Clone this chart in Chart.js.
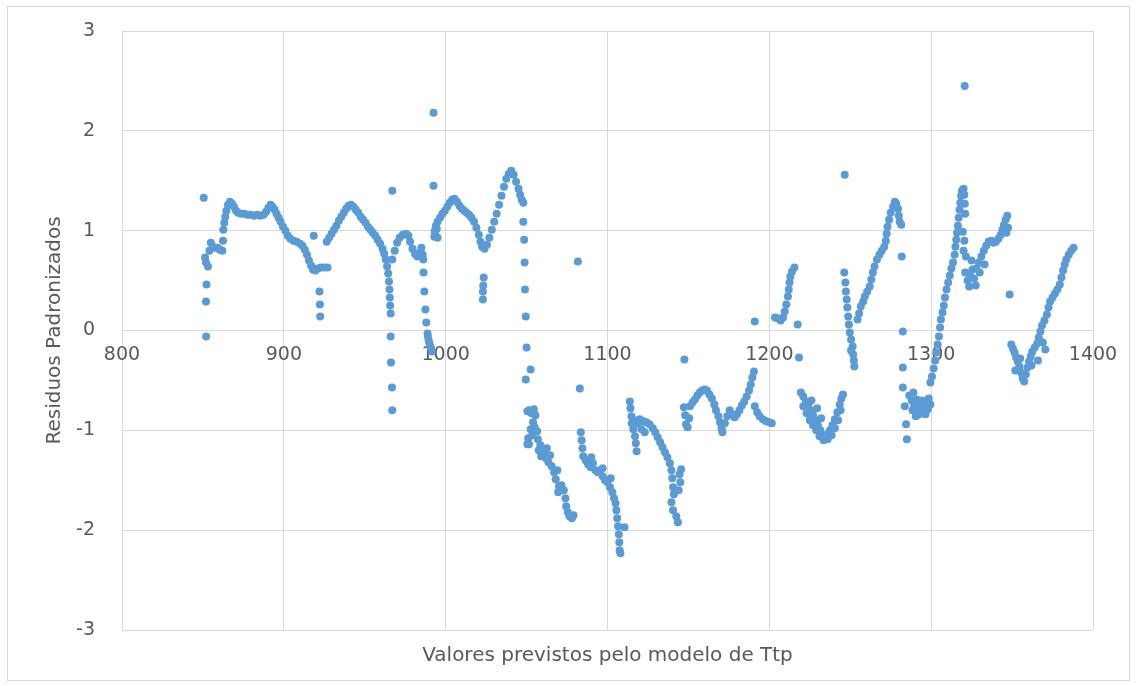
<!DOCTYPE html>
<html lang="pt">
<head>
<meta charset="UTF-8">
<title>Residuos Padronizados</title>
<style>
  html, body { margin: 0; padding: 0; background: #ffffff; }
  #wrap { position: relative; width: 1137px; height: 686px; }
</style>
</head>
<body>
<div id="wrap"><canvas id="grafico" width="1137" height="686"></canvas></div>

<script src="https://cdn.jsdelivr.net/npm/chart.js"></script>
<script>
const trecho850 = [
  [850.5,1.33],[852.0,-0.06],[851.9,0.29],[852.2,0.46],[851.3,0.73],[851.9,0.68],[853.1,0.64],
  [854.0,0.80],[854.9,0.88],[856.2,0.84],[857.5,0.83],[859.0,0.83],[860.5,0.81],[862.0,0.80],
  [862.4,0.90],[862.6,1.01],[863.2,1.08],[863.8,1.14],[864.5,1.20],[865.5,1.26],[866.7,1.29],
  [868.0,1.27],[869.2,1.24],[870.5,1.20],[871.7,1.18],[873.5,1.17],[875.5,1.17],[877.5,1.16],
  [879.5,1.16],[881.5,1.15],[883.5,1.16],[885.5,1.15],[887.5,1.16],[889.0,1.19],[890.5,1.23],
  [891.8,1.26],[893.0,1.24],[894.3,1.21],[895.5,1.17],[896.8,1.13],[898.0,1.09],[899.5,1.04],
  [901.0,1.00],[902.5,0.95],[904.0,0.92],[906.0,0.90],[908.0,0.89],[910.0,0.87],[911.5,0.85],
  [913.0,0.81],[914.3,0.76],[915.5,0.70],[916.8,0.65],[918.0,0.61],[919.5,0.60],[921.0,0.62],
  [923.0,0.63],[925.0,0.63],[927.0,0.63],[918.5,0.95],[922.0,0.39],[922.3,0.26],[922.5,0.14]
];
const trecho930 = [
  [926.5,0.89],[928.0,0.93],[929.5,0.97],[931.0,1.01],[932.5,1.05],[934.0,1.10],[935.5,1.14],
  [937.0,1.18],[938.5,1.22],[940.0,1.25],[941.5,1.26],[943.0,1.24],[944.5,1.21],[946.0,1.18],
  [947.5,1.14],[949.0,1.11],[950.5,1.08],[952.0,1.04],[953.5,1.01],[955.0,0.98],[956.5,0.95],
  [958.0,0.91],[959.5,0.87],[961.0,0.82],[962.0,0.77],[963.0,0.71],[963.8,0.64],[964.5,0.57],
  [965.0,0.49],[965.3,0.41],[965.5,0.33],[965.7,0.25],[966.0,0.17],[966.0,-0.06],[966.2,-0.32],
  [966.8,-0.57],[967.0,-0.80],[967.0,1.40],[967.0,0.71],[968.5,0.80],[970.0,0.88],[971.5,0.93],
  [973.5,0.96],[975.5,0.97],[977.0,0.95],[978.0,0.89],[979.5,0.82],[981.0,0.77],[982.5,0.74],
  [984.0,0.78],[985.0,0.83],[985.8,0.76],[986.2,0.71],[986.3,0.58],[986.8,0.39],[987.5,0.21],
  [988.0,0.08],[988.8,-0.03],[989.0,-0.06],[989.5,-0.10],[990.0,-0.13],[990.5,-0.16],[991.0,-0.18],
  [991.5,-0.21],[992.5,1.45],[992.5,2.18]
];
const trecho1000 = [
  [993.0,0.94],[993.3,1.00],[993.5,0.97],[994.0,1.05],[994.5,1.02],[995.0,0.93],[995.0,1.09],
  [996.5,1.13],[998.0,1.17],[999.5,1.20],[1001.0,1.24],[1002.5,1.28],[1004.0,1.31],[1005.5,1.32],
  [1007.0,1.29],[1008.5,1.25],[1010.0,1.22],[1011.5,1.20],[1013.0,1.18],[1014.5,1.16],[1016.0,1.13],
  [1017.5,1.09],[1019.0,1.03],[1020.5,0.96],[1021.5,0.89],[1022.5,0.84],[1024.0,0.82],[1025.5,0.86],
  [1027.0,0.93],[1023.5,0.53],[1023.2,0.45],[1023.0,0.39],[1023.0,0.31],[1028.5,1.01],[1030.0,1.09],
  [1031.5,1.17],[1033.0,1.26],[1034.5,1.35],[1036.0,1.44],[1037.5,1.52],[1039.0,1.57],[1040.5,1.60],
  [1042.0,1.56],[1043.5,1.49],[1045.0,1.42],[1046.0,1.36],[1047.0,1.31],[1048.0,1.28],[1048.0,1.09],
  [1048.5,0.91],[1048.8,0.68],[1049.0,0.41],[1049.5,0.14],[1050.0,-0.17],[1052.5,-0.39],[1049.5,-0.49],
  [1050.5,-0.81],[1050.5,-1.14]
];
const trecho1060 = [
  [1051.5,-0.80],[1053.0,-0.83],[1054.5,-0.79],[1055.5,-0.85],[1054.0,-0.92],[1052.5,-0.99],
  [1051.0,-1.08],[1051.5,-1.14],[1053.5,-1.05],[1055.0,-0.97],[1056.5,-1.01],[1057.0,-1.09],
  [1058.5,-1.15],[1057.5,-1.20],[1059.0,-1.26],[1060.5,-1.22],[1062.0,-1.28],[1063.5,-1.32],
  [1062.5,-1.18],[1064.5,-1.25],[1065.5,-1.36],[1067.0,-1.42],[1068.0,-1.49],[1069.0,-1.40],
  [1070.0,-1.56],[1069.5,-1.62],[1071.5,-1.55],[1073.0,-1.60],[1074.0,-1.68],[1074.5,-1.76],
  [1075.5,-1.82],[1076.5,-1.86],[1078.0,-1.88],[1079.0,-1.85],[1081.7,0.69],[1082.9,-0.58]
];
const trecho1100 = [
  [1083.5,-1.02],[1084.0,-1.10],[1084.5,-1.18],[1085.0,-1.26],[1086.5,-1.30],[1088.0,-1.34],
  [1089.5,-1.37],[1091.0,-1.33],[1092.5,-1.40],[1094.0,-1.42],[1095.5,-1.40],[1097.0,-1.46],
  [1098.5,-1.50],[1100.0,-1.52],[1101.5,-1.57],[1103.0,-1.62],[1104.0,-1.68],[1105.0,-1.73],
  [1105.5,-1.80],[1106.0,-1.88],[1106.5,-1.96],[1107.0,-2.04],[1107.3,-2.12],[1107.5,-2.20],
  [1108.0,-2.23],[1110.5,-1.97],[1102.0,-1.48],[1097.0,-1.38],[1090.0,-1.27]
];
const trecho1130 = [
  [1113.8,-0.71],[1114.2,-0.78],[1114.8,-0.86],[1115.0,-0.93],[1116.0,-0.99],[1117.0,-1.06],
  [1117.5,-1.13],[1118.0,-1.21],[1116.5,-0.90],[1118.5,-0.93],[1120.0,-0.89],[1121.0,-0.99],
  [1122.0,-0.91],[1123.0,-1.02],[1124.0,-0.92],[1126.0,-0.94],[1128.0,-0.98],[1129.5,-1.02],
  [1131.0,-1.07],[1132.5,-1.12],[1134.0,-1.17],[1135.5,-1.22],[1137.0,-1.27],[1138.5,-1.33],
  [1139.5,-1.40],[1140.0,-1.48],[1140.5,-1.57],[1141.0,-1.64],[1139.5,-1.72],[1140.5,-1.80],
  [1142.5,-1.86],[1143.5,-1.92],[1144.5,-1.44],[1145.0,-1.52],[1145.5,-1.39],[1144.0,-1.60],
  [1147.5,-0.29]
];
const trecho1170 = [
  [1147.2,-0.77],[1148.0,-0.85],[1148.5,-0.94],[1149.5,-0.97],[1150.5,-0.88],[1151.0,-0.76],
  [1152.5,-0.72],[1154.0,-0.69],[1155.5,-0.65],[1157.0,-0.62],[1158.5,-0.60],[1160.0,-0.59],
  [1161.5,-0.60],[1163.0,-0.64],[1164.5,-0.68],[1166.0,-0.74],[1167.0,-0.80],[1168.5,-0.86],
  [1169.5,-0.92],[1170.5,-0.98],[1171.0,-1.02],[1172.5,-0.93],[1174.0,-0.86],[1175.5,-0.80],
  [1177.0,-0.84],[1178.5,-0.87],[1180.0,-0.84],[1181.5,-0.80],[1183.0,-0.75],[1184.5,-0.71],
  [1186.0,-0.66],[1187.5,-0.60],[1188.5,-0.54],[1189.5,-0.47],[1190.5,-0.41],[1191.0,-0.76],
  [1192.5,-0.82],[1194.0,-0.86],[1196.0,-0.89],[1198.0,-0.91],[1200.0,-0.92],[1201.5,-0.93],
  [1191.0,0.09]
];
const trecho1210 = [
  [1203.5,0.13],[1205.5,0.12],[1207.0,0.10],[1208.5,0.13],[1209.5,0.19],[1210.5,0.26],
  [1211.5,0.34],[1212.0,0.41],[1212.5,0.48],[1213.0,0.54],[1214.0,0.59],[1215.5,0.63],
  [1217.5,0.06],[1218.3,-0.27]
];
const trecho1230 = [
  [1219.5,-0.62],[1221.0,-0.66],[1222.5,-0.71],[1224.0,-0.75],[1225.5,-0.80],[1227.0,-0.85],
  [1228.5,-0.90],[1230.0,-0.95],[1231.5,-1.00],[1233.0,-1.05],[1234.5,-1.07],[1236.0,-1.04],
  [1237.5,-1.00],[1239.0,-0.95],[1240.5,-0.89],[1242.0,-0.82],[1243.5,-0.74],[1244.5,-0.68],
  [1245.5,-0.64],[1221.0,-0.76],[1223.0,-0.83],[1225.0,-0.90],[1227.0,-0.95],[1229.0,-1.00],
  [1231.0,-1.06],[1233.5,-1.10],[1236.0,-1.09],[1238.5,-1.05],[1240.5,-0.98],[1242.5,-0.90],
  [1244.0,-0.80],[1226.0,-0.70],[1229.5,-0.78],[1232.0,-0.88],[1246.6,1.56]
];
const trecho1265 = [
  [1246.3,0.58],[1247.0,0.48],[1247.3,0.39],[1247.8,0.31],[1248.2,0.23],[1248.7,0.14],
  [1249.2,0.06],[1249.7,-0.02],[1250.5,-0.09],[1251.5,-0.16],[1250.5,-0.20],[1251.8,-0.24],
  [1252.2,-0.30],[1252.5,-0.36],[1254.5,0.11],[1255.5,0.17],[1256.5,0.24],[1258.0,0.29],
  [1259.0,0.34],[1260.5,0.39],[1262.0,0.44],[1263.0,0.51],[1264.0,0.58],[1265.0,0.64],
  [1266.5,0.71],[1268.0,0.76],[1269.5,0.80],[1271.0,0.84],[1272.0,0.90],[1272.5,0.97],
  [1273.0,1.04],[1274.0,1.11],[1275.0,1.18],[1276.5,1.24],[1277.5,1.29],[1278.5,1.27],
  [1279.5,1.22],[1280.0,1.15],[1280.5,1.09],[1281.5,1.06],[1281.8,0.74],[1282.5,-0.01],
  [1282.5,-0.37],[1282.5,-0.57],[1283.7,-0.76],[1284.5,-0.94],[1285.0,-1.09]
];
const trecho1295 = [
  [1286.5,-0.65],[1288.0,-0.70],[1289.5,-0.74],[1291.0,-0.80],[1292.5,-0.84],[1294.0,-0.82],
  [1295.5,-0.77],[1297.0,-0.72],[1298.5,-0.68],[1288.5,-0.80],[1290.5,-0.86],[1292.0,-0.74],
  [1294.5,-0.70],[1296.5,-0.84],[1298.0,-0.79],[1299.5,-0.74],[1291.0,-0.69],[1289.0,-0.62]
];
const trecho1310 = [
  [1299.5,-0.52],[1300.5,-0.46],[1301.5,-0.38],[1302.5,-0.30],[1303.5,-0.22],[1304.0,-0.14],
  [1304.8,-0.06],[1305.5,0.03],[1306.0,0.11],[1307.0,0.18],[1307.8,0.25],[1308.5,0.33],
  [1309.5,0.41],[1310.5,0.48],[1311.5,0.55],[1312.5,0.62],[1313.5,0.68],[1314.5,0.76],
  [1315.0,0.84],[1315.5,0.91],[1316.0,0.98],[1316.5,1.05],[1317.0,1.13],[1317.5,1.21],
  [1318.0,1.28],[1318.5,1.35],[1319.0,1.40],[1320.0,1.42],[1320.5,1.36],[1320.8,1.27],
  [1321.0,1.17],[1319.5,0.99],[1320.5,0.90],[1320.0,0.80],[1321.5,0.74],[1320.7,2.45]
];
const trecho1335 = [
  [1321.0,0.58],[1322.5,0.50],[1323.5,0.44],[1324.0,0.55],[1325.5,0.61],[1326.5,0.52],
  [1327.5,0.45],[1328.0,0.62],[1329.5,0.68],[1331.0,0.74],[1332.5,0.80],[1334.0,0.85],
  [1335.5,0.89],[1337.0,0.90],[1338.5,0.88],[1340.0,0.89],[1341.5,0.92],[1343.0,0.96],
  [1344.0,1.01],[1345.0,1.06],[1346.0,1.11],[1347.0,1.15],[1347.5,1.03],[1346.5,0.98],
  [1325.0,0.70],[1330.0,0.58],[1333.0,0.66],[1348.5,0.36]
];
const trecho1370 = [
  [1349.5,-0.14],[1350.5,-0.18],[1351.5,-0.22],[1352.5,-0.27],[1353.5,-0.31],[1354.5,-0.36],
  [1355.5,-0.42],[1356.5,-0.48],[1357.5,-0.51],[1358.5,-0.44],[1359.5,-0.37],[1360.5,-0.31],
  [1361.5,-0.26],[1362.5,-0.21],[1364.0,-0.17],[1365.5,-0.13],[1366.5,-0.07],[1367.5,-0.01],
  [1368.5,0.05],[1369.0,-0.12],[1370.5,-0.19],[1370.0,0.10],[1371.5,0.16],[1372.5,0.23],
  [1373.5,0.29],[1375.0,0.33],[1376.5,0.37],[1378.0,0.41],[1379.5,0.46],[1380.5,0.53],
  [1381.5,0.60],[1382.5,0.66],[1383.5,0.71],[1385.0,0.76],[1386.5,0.80],[1388.0,0.83],
  [1352.0,-0.40],[1355.0,-0.28],[1362.0,-0.35],[1366.0,-0.30]
];

const xTicks = [800, 900, 1000, 1100, 1200, 1300, 1400];
const yTicks = [-3, -2, -1, 0, 1, 2, 3];

const trechos = [trecho850, trecho930, trecho1000, trecho1060, trecho1100, trecho1130,
  trecho1170, trecho1210, trecho1230, trecho1265, trecho1295, trecho1310, trecho1335, trecho1370];
const pontos = [];
trechos.forEach(t => t.forEach(p => pontos.push({ x: p[0], y: p[1] })));

const corTexto = '#595959';
const corGrade = '#d9d9d9';
const fonte = 'DejaVu Sans';

// moldura cinza clara em volta da figura
const moldura = {
  id: 'moldura',
  beforeDraw(chart) {
    const c = chart.ctx;
    c.save();
    c.fillStyle = '#ffffff';
    c.fillRect(0, 0, chart.width, chart.height);
    c.strokeStyle = corGrade;
    c.lineWidth = 1;
    c.strokeRect(7.5, 6.5, 1122, 674);
    c.restore();
  }
};

new Chart(document.getElementById('grafico'), {
  type: 'scatter',
  data: {
    datasets: [{
      data: pontos,
      backgroundColor: '#5b9bd5',
      borderColor: '#5b9bd5',
      borderWidth: 0,
      pointRadius: 4,
      pointHoverRadius: 4
    }]
  },
  options: {
    responsive: false,
    animation: false,
    layout: { padding: { left: 39, right: 44, top: 31, bottom: 3 } },
    plugins: {
      legend: { display: false },
      tooltip: { enabled: false },
      title: {
        display: true,
        position: 'bottom',
        fullSize: false,
        text: 'Valores previstos pelo modelo de Ttp',
        color: corTexto,
        font: { family: fonte, size: 20, weight: 'normal' },
        padding: { top: 14, bottom: 15 }
      }
    },
    scales: {
      x: {
        type: 'linear',
        position: { y: 0 },
        min: 800, max: 1400,
        afterBuildTicks: s => { s.ticks = xTicks.map(v => ({ value: v })); },
        afterFit: s => { s.paddingTop = 0; s.paddingBottom = 0; s.height = 0; },
        ticks: {
          color: corTexto, font: { family: fonte, size: 19 }, padding: 13, maxRotation: 0,
          callback: v => String(v)
        },
        grid: { color: corGrade, lineWidth: 1, drawTicks: false },
        border: { display: false }
      },
      y: {
        type: 'linear',
        min: -3, max: 3,
        afterBuildTicks: s => { s.ticks = yTicks.map(v => ({ value: v })); },
        afterFit: s => { s.width = 83; s.paddingTop = 0; s.paddingBottom = 0; },
        ticks: { color: corTexto, font: { family: fonte, size: 19 }, padding: 27, callback: v => String(v) },
        grid: { color: corGrade, lineWidth: 1, drawTicks: false },
        border: { display: false },
        title: {
          display: true,
          text: 'Residuos Padronizados',
          color: corTexto,
          font: { family: fonte, size: 20 },
          padding: { top: 4, bottom: 0 }
        }
      }
    }
  },
  plugins: [moldura]
});
</script>
</body>
</html>
